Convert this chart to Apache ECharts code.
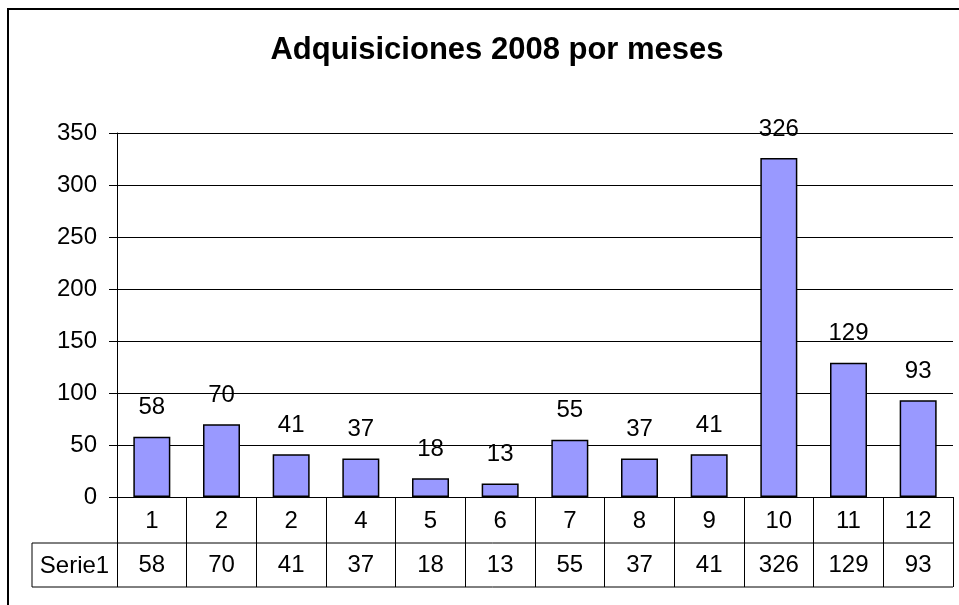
<!DOCTYPE html>
<html>
<head>
<meta charset="utf-8">
<script src="https://cdn.jsdelivr.net/npm/echarts@6/dist/echarts.min.js"></script>
<style>
  html, body { margin: 0; padding: 0; background: #fff; }
  #main { width: 959px; height: 605px; }
</style>
</head>
<body>
<div id="main"></div>
<script>
// datos del grafico
var titulo = 'Adquisiciones 2008 por meses';
var serieNombre = 'Serie1';
var meses = ['1', '2', '2', '4', '5', '6', '7', '8', '9', '10', '11', '12'];
var valores = [58, 70, 41, 37, 18, 13, 55, 37, 41, 326, 129, 93];

var fuente = '"Liberation Sans", Arial, sans-serif';
// area de trazado
var izq = 117, der = 953, arriba = 133, abajo = 497;
var filaAlto = 45;

var myChart = echarts.init(document.getElementById('main'));

var option = {
    backgroundColor: '#fff',
    animation: false,
    textStyle: { fontFamily: fuente },
    title: {
        text: titulo,
        left: 492,
        top: 30,
        textAlign: 'center',
        textStyle: { fontFamily: fuente, fontSize: 31, fontWeight: 'bold', color: '#000' }
    },
    grid: {
        left: izq,
        right: 959 - der,
        top: arriba,
        bottom: 605 - abajo
    },
    xAxis: [{
        type: 'category',
        data: meses,
        boundaryGap: true,
        axisLine: { show: true, lineStyle: { color: '#000', width: 1 } },
        axisTick: { show: true, interval: 0, length: filaAlto * 2, lineStyle: { color: '#000' } },
        axisLabel: { interval: 0, margin: 12, fontSize: 24, color: '#000', fontFamily: fuente },
        splitLine: { show: false }
    }, {
        // segunda fila de la tabla de datos
        type: 'category',
        position: 'bottom',
        offset: filaAlto,
        data: valores.map(function (v) { return String(v); }),
        axisLine: { show: false },
        axisTick: { show: false },
        axisLabel: { interval: 0, margin: 11, fontSize: 24, color: '#000', fontFamily: fuente }
    }],
    yAxis: {
        type: 'value',
        min: 0,
        max: 350,
        interval: 50,
        axisLine: { show: true, lineStyle: { color: '#000' } },
        axisTick: { show: true, length: 8, lineStyle: { color: '#000' } },
        axisLabel: { margin: 20, fontSize: 24, color: '#000', fontFamily: fuente },
        splitLine: { show: true, lineStyle: { color: '#000', width: 1 } }
    },
    series: [{
        name: serieNombre,
        type: 'bar',
        xAxisIndex: 0,
        data: valores,
        barWidth: 37,
        itemStyle: { color: '#9999FF', borderColor: '#000', borderWidth: 1.5 },
        label: {
            show: true,
            position: 'top',
            distance: 17,
            fontSize: 24,
            color: '#000',
            fontFamily: fuente
        }
    }],
    graphic: [
        // marco exterior
        { type: 'rect', shape: { x: 8, y: 9, width: 1000, height: 700 },
          style: { fill: null, stroke: '#000', lineWidth: 2 }, silent: true },
        // lineas de la tabla
        { type: 'line', shape: { x1: 32, y1: abajo + filaAlto + 1, x2: der, y2: abajo + filaAlto + 1 },
          style: { stroke: '#000', lineWidth: 1 } },
        { type: 'line', shape: { x1: 32, y1: abajo + filaAlto * 2, x2: der, y2: abajo + filaAlto * 2 },
          style: { stroke: '#000', lineWidth: 1 } },
        { type: 'line', shape: { x1: 32, y1: abajo + filaAlto + 1, x2: 32, y2: abajo + filaAlto * 2 },
          style: { stroke: '#000', lineWidth: 1 } },
        { type: 'text', x: (32 + izq) / 2, y: abajo + filaAlto * 1.5 + 2,
          style: { text: serieNombre, font: '24px ' + fuente, fill: '#000',
                   textAlign: 'center', textVerticalAlign: 'middle' } }
    ]
};

myChart.setOption(option);
</script>
</body>
</html>
